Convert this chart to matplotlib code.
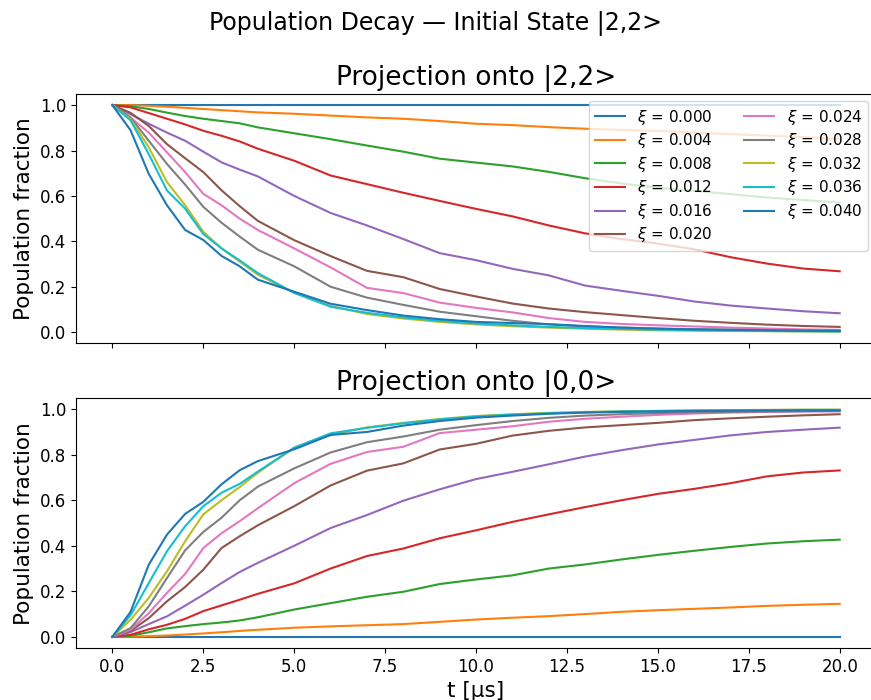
import matplotlib
matplotlib.use("Agg")
import matplotlib.pyplot as plt
import numpy as np

# tiempos de muestreo [µs]
t = [0, 0.5, 1, 1.5, 2, 2.5, 3, 3.5, 4, 5, 6, 7, 8, 9, 10,
     11, 12, 13, 14, 15, 16, 17, 18, 19, 20]

xis = [0.000, 0.004, 0.008, 0.012, 0.016, 0.020,
       0.024, 0.028, 0.032, 0.036, 0.040]

# proyección sobre |2,2>
top_000 = [1.0] * 25
top_004 = [1, 1.0, 0.997, 0.993, 0.988, 0.983, 0.978, 0.973, 0.968, 0.962, 0.954, 0.946, 0.94,
           0.93, 0.918, 0.912, 0.903, 0.896, 0.891, 0.886, 0.879, 0.872, 0.866, 0.859, 0.85]
top_008 = [1, 0.995, 0.983, 0.967, 0.952, 0.94, 0.93, 0.92, 0.902, 0.876, 0.85, 0.822, 0.795,
           0.764, 0.747, 0.73, 0.706, 0.678, 0.655, 0.636, 0.623, 0.608, 0.593, 0.582, 0.571]
top_012 = [1, 0.99, 0.965, 0.94, 0.915, 0.887, 0.865, 0.84, 0.808, 0.755, 0.69, 0.652, 0.614,
           0.578, 0.543, 0.51, 0.47, 0.435, 0.41, 0.39, 0.365, 0.33, 0.302, 0.28, 0.268]
top_016 = [1, 0.96, 0.918, 0.879, 0.843, 0.795, 0.748, 0.716, 0.686, 0.6, 0.525, 0.47, 0.41,
           0.348, 0.317, 0.279, 0.25, 0.205, 0.182, 0.16, 0.135, 0.117, 0.104, 0.092, 0.083]
top_020 = [1, 0.966, 0.908, 0.828, 0.766, 0.705, 0.625, 0.555, 0.49, 0.405, 0.335, 0.27, 0.242,
           0.19, 0.157, 0.126, 0.104, 0.088, 0.075, 0.062, 0.05, 0.041, 0.033, 0.027, 0.023]
top_024 = [1, 0.945, 0.879, 0.792, 0.705, 0.609, 0.559, 0.5, 0.45, 0.369, 0.285, 0.195, 0.172,
           0.13, 0.107, 0.087, 0.062, 0.045, 0.036, 0.03, 0.025, 0.02, 0.016, 0.012, 0.01]
top_028 = [1, 0.945, 0.843, 0.741, 0.65, 0.552, 0.482, 0.421, 0.363, 0.29, 0.2, 0.152, 0.12,
           0.09, 0.07, 0.05, 0.034, 0.025, 0.02, 0.016, 0.013, 0.011, 0.009, 0.008, 0.007]
top_032 = [1, 0.938, 0.814, 0.661, 0.559, 0.442, 0.369, 0.311, 0.253, 0.173, 0.115, 0.08, 0.06,
           0.045, 0.034, 0.026, 0.02, 0.015, 0.011, 0.008, 0.006, 0.005, 0.004, 0.003, 0.002]
top_036 = [1, 0.933, 0.784, 0.624, 0.544, 0.432, 0.369, 0.316, 0.26, 0.173, 0.112, 0.085, 0.065,
           0.05, 0.038, 0.03, 0.023, 0.018, 0.014, 0.011, 0.009, 0.007, 0.005, 0.004, 0.003]
top_040 = [1, 0.889, 0.697, 0.559, 0.45, 0.406, 0.336, 0.29, 0.231, 0.178, 0.125, 0.097, 0.073,
           0.057, 0.045, 0.04, 0.035, 0.027, 0.02, 0.015, 0.012, 0.01, 0.008, 0.006, 0.005]

# proyección sobre |0,0>
bot_000 = [0.0] * 25
bot_004 = [0, 0.001, 0.003, 0.006, 0.01, 0.015, 0.02, 0.026, 0.031, 0.04, 0.046, 0.051, 0.056,
           0.066, 0.076, 0.084, 0.091, 0.1, 0.11, 0.117, 0.123, 0.129, 0.136, 0.141, 0.145]
bot_008 = [0, 0.005, 0.02, 0.037, 0.047, 0.056, 0.063, 0.072, 0.086, 0.12, 0.148, 0.176, 0.198,
           0.232, 0.252, 0.27, 0.3, 0.318, 0.34, 0.36, 0.378, 0.395, 0.41, 0.42, 0.427]
bot_012 = [0, 0.009, 0.033, 0.053, 0.079, 0.113, 0.138, 0.163, 0.189, 0.235, 0.3, 0.355, 0.388,
           0.433, 0.468, 0.505, 0.538, 0.57, 0.6, 0.628, 0.65, 0.675, 0.705, 0.722, 0.731]
bot_016 = [0, 0.021, 0.056, 0.09, 0.137, 0.185, 0.236, 0.285, 0.325, 0.4, 0.478, 0.535, 0.598,
           0.648, 0.693, 0.725, 0.758, 0.792, 0.82, 0.845, 0.865, 0.885, 0.9, 0.91, 0.919]
bot_020 = [0, 0.026, 0.082, 0.156, 0.219, 0.295, 0.39, 0.442, 0.49, 0.574, 0.665, 0.73, 0.762,
           0.823, 0.848, 0.884, 0.905, 0.92, 0.93, 0.94, 0.952, 0.96, 0.967, 0.973, 0.978]
bot_024 = [0, 0.031, 0.104, 0.193, 0.276, 0.39, 0.455, 0.508, 0.565, 0.675, 0.76, 0.812, 0.835,
           0.895, 0.91, 0.925, 0.945, 0.958, 0.967, 0.975, 0.981, 0.985, 0.988, 0.99, 0.991]
bot_028 = [0, 0.038, 0.134, 0.258, 0.38, 0.461, 0.523, 0.6, 0.66, 0.74, 0.81, 0.855, 0.88,
           0.91, 0.93, 0.948, 0.962, 0.972, 0.978, 0.983, 0.986, 0.988, 0.99, 0.991, 0.992]
bot_032 = [0, 0.075, 0.171, 0.288, 0.42, 0.538, 0.6, 0.658, 0.721, 0.831, 0.887, 0.92, 0.94,
           0.957, 0.97, 0.978, 0.984, 0.988, 0.991, 0.993, 0.995, 0.996, 0.997, 0.998, 0.998]
bot_036 = [0, 0.095, 0.236, 0.376, 0.486, 0.574, 0.633, 0.672, 0.726, 0.831, 0.894, 0.918, 0.938,
           0.955, 0.968, 0.976, 0.982, 0.987, 0.99, 0.992, 0.994, 0.995, 0.996, 0.997, 0.997]
bot_040 = [0, 0.11, 0.317, 0.449, 0.54, 0.593, 0.67, 0.732, 0.772, 0.824, 0.887, 0.9, 0.928,
           0.948, 0.963, 0.972, 0.98, 0.985, 0.988, 0.99, 0.992, 0.993, 0.994, 0.995, 0.995]

top = [top_000, top_004, top_008, top_012, top_016, top_020,
       top_024, top_028, top_032, top_036, top_040]
bot = [bot_000, bot_004, bot_008, bot_012, bot_016, bot_020,
       bot_024, bot_028, bot_032, bot_036, bot_040]

fig = plt.figure(figsize=(8.71, 7.0), dpi=100)
ax1 = fig.add_axes([0.0873, 0.51, 0.9185, 0.356])
ax2 = fig.add_axes([0.0873, 0.074, 0.9185, 0.357], sharex=ax1)

for xi, y_top, y_bot in zip(xis, top, bot):
    ax1.plot(t, y_top, label=rf"$\xi$ = {xi:.3f}")
    ax2.plot(t, y_bot, label=rf"$\xi$ = {xi:.3f}")

fig.suptitle("Population Decay — Initial State |2,2>", fontsize=17, y=0.985)

ax1.set_title("Projection onto |2,2>", fontsize=19)
ax1.set_ylabel("Population fraction", fontsize=15.5)
ax1.tick_params(labelsize=12, labelbottom=False)
ax1.legend(ncol=2, loc="upper right", fontsize=11, labelspacing=0.3)

ax2.set_title("Projection onto |0,0>", fontsize=19)
ax2.set_ylabel("Population fraction", fontsize=15.5)
ax2.set_xlabel("t [µs]", fontsize=15.5)
ax2.tick_params(labelsize=12)

plt.savefig("out.png", dpi=100)
